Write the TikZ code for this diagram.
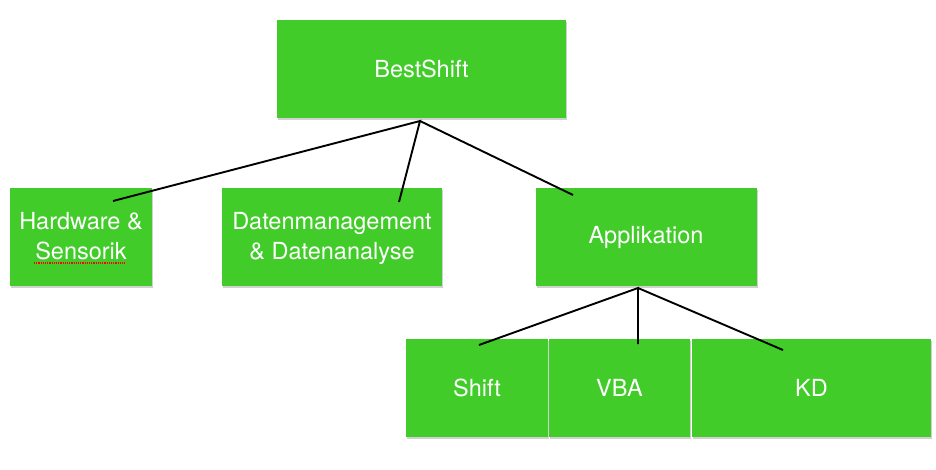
\documentclass[tikz,border=0pt]{standalone}
\usepackage{fontspec}
\setmainfont{TeX Gyre Heros}
\usetikzlibrary{shadows}
\definecolor{boxgreen}{RGB}{66,204,42}

\tikzset{
  box/.style={fill=boxgreen, text=white, align=center, inner sep=0pt,
    minimum height=98pt, font=\fontsize{23.5}{30}\selectfont,
    drop shadow={shadow xshift=1pt, shadow yshift=-1.5pt, opacity=0.3, fill=black!60}},
  link/.style={line width=1.9pt, black},
}

\begin{document}
\begin{tikzpicture}[x=1pt,y=-1pt]
\useasboundingbox (0,0) rectangle (936,469);

% boxes
\node [box, minimum width=289pt] (bestshift) at (421.5,69) {BestShift};
\node [box, minimum width=142pt, text depth=3pt] (hardware) at (81,237) {Hardware \&\\Sensorik};
\node [box, minimum width=220pt, text depth=3pt] (daten) at (332,237) {Datenmanagement\\\& Datenanalyse};
\node [box, minimum width=221pt] (applikation) at (646,237) {Applikation};
\node [box, minimum width=142pt] (shift) at (477,388) {Shift};
\node [box, minimum width=141pt] (vba) at (619.5,388) {VBA};
\node [box, minimum width=239pt] (kd) at (811.5,388) {KD};

% line ends
\coordinate (bsroot) at (420,121);
\coordinate (hwend) at (113,201);
\coordinate (datenend) at (399,202);
\coordinate (append) at (573,195);
\coordinate (aproot) at (638,288);
\coordinate (shiftend) at (479,345);
\coordinate (vbaend) at (638,344);
\coordinate (kdend) at (783,350);

\draw [link] (hwend) -- (bsroot) -- (datenend);
\draw [link] (bsroot) -- (append);
\draw [link] (shiftend) -- (aproot) -- (vbaend);
\draw [link] (aproot) -- (kdend);

% spell check mark
\draw [red, densely dotted, line width=1.2pt] (34,263) -- (126,263);
\end{tikzpicture}
\end{document}
